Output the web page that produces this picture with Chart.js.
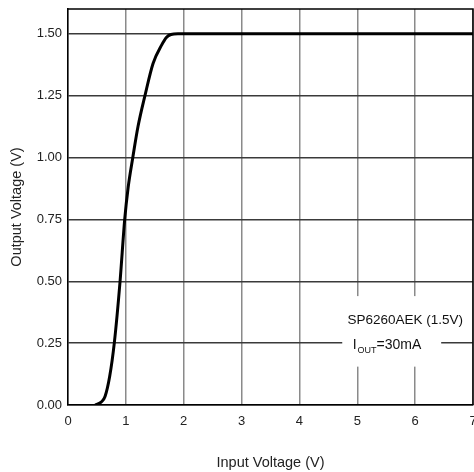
<!DOCTYPE html>
<html>
<head>
<meta charset="utf-8">
<script src="https://cdn.jsdelivr.net/npm/chart.js@4.4.1/dist/chart.umd.min.js"></script>
<style>
  html, body { margin: 0; padding: 0; background: #fff; }
  #wrap { width: 474px; height: 472px; }
</style>
</head>
<body>
<div id="wrap"><canvas id="c"></canvas></div>
<script>
const inputVoltage = [0.47, 0.58, 0.64, 0.72, 0.80, 0.90, 0.98, 1.04, 1.12, 1.21, 1.33, 1.47, 1.62, 1.70, 1.78, 1.90, 2.0, 3.0, 4.0, 5.0, 6.0, 7.0];
const outputVoltage = [0.0, 0.013, 0.034, 0.115, 0.25, 0.50, 0.75, 0.88, 1.00, 1.125, 1.25, 1.38, 1.455, 1.485, 1.497, 1.5, 1.5, 1.5, 1.5, 1.5, 1.5, 1.5];
const xTicks = [0, 1, 2, 3, 4, 5, 6, 7];
const yTicks = [0, 0.25, 0.5, 0.75, 1.0, 1.25, 1.5];
const noteLine1 = "SP6260AEK (1.5V)";
const noteLine2 = ["I", "OUT", "=30mA"];

const FONT = "'Liberation Sans', Arial, sans-serif";

const notePlugin = {
  id: "note",
  afterDatasetsDraw(chart) {
    const { ctx, scales: { x, y } } = chart;
    ctx.save();
    // white patch hiding the grid behind the label
    const bx1 = x.getPixelForValue(4.74), bx2 = x.getPixelForValue(6.45);
    const by1 = y.getPixelForValue(0.44), by2 = y.getPixelForValue(0.155);
    ctx.fillStyle = "#fff";
    ctx.fillRect(bx1, by1, bx2 - bx1, by2 - by1);
    ctx.fillStyle = "#111";
    ctx.textBaseline = "middle";
    ctx.font = "13.5px " + FONT;
    ctx.textAlign = "center";
    ctx.fillText(noteLine1, x.getPixelForValue(5.83), y.getPixelForValue(0.344));
    ctx.textAlign = "left";
    let px = x.getPixelForValue(4.92);
    const py = y.getPixelForValue(0.243);
    ctx.font = "14px " + FONT;
    ctx.fillText(noteLine2[0], px, py);
    px += ctx.measureText(noteLine2[0]).width + 1;
    ctx.font = "9px " + FONT;
    ctx.fillText(noteLine2[1], px, py + 6);
    px += ctx.measureText(noteLine2[1]).width;
    ctx.font = "14px " + FONT;
    ctx.fillText(noteLine2[2], px, py);
    ctx.restore();
  }
};

new Chart(document.getElementById("c"), {
  type: "scatter",
  data: {
    datasets: [{
      data: inputVoltage.map((v, i) => ({ x: v, y: outputVoltage[i] })),
      showLine: true,
      borderColor: "#000",
      borderWidth: 3,
      pointRadius: 0,
      cubicInterpolationMode: "monotone",
      fill: false,
    }],
  },
  options: {
    responsive: true,
    maintainAspectRatio: false,
    animation: false,
    layout: { padding: { top: 9, right: 1, left: 0, bottom: 0 } },
    plugins: { legend: { display: false }, tooltip: { enabled: false } },
    scales: {
      x: {
        type: "linear",
        min: 0,
        max: 7,
        afterBuildTicks: (axis) => { axis.ticks = xTicks.map(v => ({ value: v })); },
        afterFit: (axis) => { axis.height = 67; axis.paddingLeft = 0; axis.paddingRight = 0; },
        grid: { color: "#8a8a8a", lineWidth: 1.5, drawTicks: false },
        border: { color: "#000", width: 1.5 },
        ticks: { color: "#222", font: { family: FONT, size: 13 }, padding: 9, maxRotation: 0 },
        title: { display: true, text: "Input Voltage (V)", color: "#222", font: { family: FONT, size: 14.5 }, padding: { top: 22, bottom: 0 } },
      },
      y: {
        type: "linear",
        min: 0,
        max: 1.6,
        afterBuildTicks: (axis) => { axis.ticks = yTicks.map(v => ({ value: v })); },
        afterFit: (axis) => { axis.width = 68; axis.paddingTop = 0; axis.paddingBottom = 0; },
        grid: { color: "#3a3a3a", lineWidth: 1.5, drawTicks: false },
        border: { color: "#000", width: 1.5 },
        ticks: { color: "#222", font: { family: FONT, size: 13 }, padding: 6, callback: (v) => v.toFixed(2) },
        title: { display: true, text: "Output Voltage (V)", color: "#222", font: { family: FONT, size: 14.5 }, padding: { top: 8 } },
      },
    },
  },
  plugins: [notePlugin, {
    id: "topBorder",
    afterDraw(chart) {
      const { ctx, chartArea: a } = chart;
      ctx.save();
      ctx.strokeStyle = "#000";
      ctx.lineWidth = 1.5;
      ctx.beginPath();
      ctx.moveTo(a.left, a.top);
      ctx.lineTo(a.right, a.top);
      ctx.lineTo(a.right, a.bottom);
      ctx.stroke();
      ctx.restore();
    }
  }],
});
</script>
</body>
</html>
